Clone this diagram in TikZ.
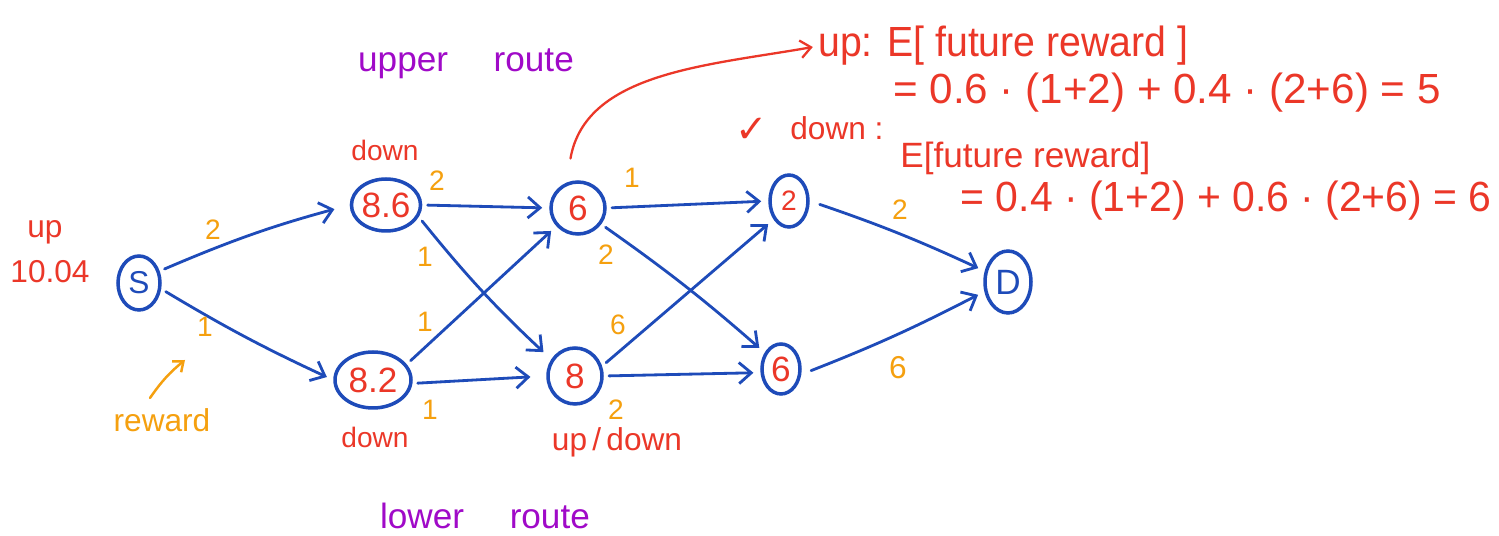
\documentclass[tikz,border=0pt]{standalone}
\usepackage{fontspec}
\setmainfont{Liberation Sans}
\newfontfamily\symfont{DejaVu Sans}
\usetikzlibrary{shapes.geometric,arrows.meta}
\definecolor{penblue}{RGB}{30,75,185}
\definecolor{penred}{RGB}{235,55,40}
\definecolor{penorange}{RGB}{245,160,15}
\definecolor{penpurple}{RGB}{160,10,200}
\newcommand\pxl{0.569pt}
\newcommand\fs[1]{\fontsize{#1}{#1}\selectfont}

\begin{document}
\begin{tikzpicture}[x=0.02cm,y=-0.02cm,
  state/.style={draw=penblue, line width=2pt, ellipse, inner sep=0pt, text=penred, font=\fs{20}},
  flow/.style={draw=penblue, line width=1.6pt, line cap=round,
    -{Straight Barb[length=7pt,width=12pt,line width=1.6pt]}, shorten <=3pt, shorten >=4pt},
  reward/.style={text=penorange, inner sep=0pt, font=\fs{16}},
  note/.style={text=penred, inner sep=0pt, font=\fs{16}},
  route/.style={text=penpurple, inner sep=0pt, font=\fs{20}},
  calc/.style={text=penred, inner sep=0pt, font=\fs{24}, anchor=base west},
]
\useasboundingbox[fill=white] (0,0) rectangle (1499,536);

% states
\node[state, text=penblue, font=\fs{18}, minimum width=42*\pxl, minimum height=54*\pxl] (s) at (139,283) {S};
\node[state, minimum width=66*\pxl, minimum height=52*\pxl] (n86) at (386,205) {8.6};
\node[state, minimum width=76*\pxl, minimum height=56*\pxl] (n82) at (373,380) {8.2};
\node[state, minimum width=54*\pxl, minimum height=52*\pxl] (n6u) at (578,208) {6};
\node[state, minimum width=54*\pxl, minimum height=56*\pxl] (n8) at (575,376) {8};
\node[state, font=\fs{16}, minimum width=38*\pxl, minimum height=52*\pxl] (n2) at (789,201) {2};
\node[state, minimum width=38*\pxl, minimum height=50*\pxl] (n6l) at (781,369) {6};
\node[state, text=penblue, minimum width=46*\pxl, minimum height=62*\pxl] (d) at (1008,282) {D};

% transitions
\draw[flow, shorten >=9pt] (s.30) to[bend left=4] (n86.west);
\draw[flow] (s.-15) to[bend right=3] (n82.west);
\draw[flow] (n86.east) -- (n6u.west);
\draw[flow, shorten >=6pt] (n86.-20) to[bend right=4] (n8.145);
\draw[flow] (n82.25) -- (n6u.220);
\draw[flow, shorten >=9pt] (n82.-5) -- (n8.west);
\draw[flow] (n6u.east) -- (n2.west);
\draw[flow] (n6u.-35) to[bend left=3] (n6l.135);
\draw[flow] (n8.20) -- (n2.230);
\draw[flow] (n8.east) -- (n6l.190);
\draw[flow, shorten <=6pt] (n2.east) to[bend left=3] (d.155);
\draw[flow, shorten <=6pt] (n6l.-15) to[bend right=3] (d.202);

% rewards on the transitions
\node[reward] (r1) at (213,230) {2};
\node[reward] (r2) at (205,327) {1};
\node[reward] (r3) at (437,181) {2};
\node[reward] (r4) at (425,257) {1};
\node[reward] (r5) at (425,322) {1};
\node[reward] (r6) at (430,410) {1};
\node[reward] (r7) at (632,178) {1};
\node[reward] (r8) at (606,255) {2};
\node[reward] (r9) at (618,325) {6};
\node[reward] (r10) at (616,410) {2};
\node[reward] (r11) at (900,210) {2};
\node[reward, font=\fs{18}] (r12) at (898,368) {6};

% reward pointer
\node[reward, font=\fs{18}] (rw) at (162,420) {reward};
\coordinate (rwtail) at (150,398);
\coordinate (rwhead) at (185,360);
\draw[penorange, line width=1.4pt, line cap=round, -{Straight Barb[length=5pt,width=8pt,line width=1.4pt]}]
  (rwtail) to[bend left=8] (rwhead);

% values and decisions
\node[note, font=\fs{18}] (upS) at (45,232) {up};
\node[note, font=\fs{18}] (vS) at (50,272) {10.04};
\node[note] (dn86) at (385,150) {down};
\node[note] (dn82) at (375,437) {down};
\node[note, font=\fs{18}] (ud8) at (617,442) {up\,/\,down};

% routes
\node[route] (upper) at (466,64) {upper\hspace{26pt}route};
\node[route] (lower) at (485,516) {lower\hspace{26pt}route};

% expected future reward
\node[calc] (upeq) at (818,57) {\scalebox{0.93}[1]{up: E[ future reward ]}};
\node[calc] (upval) at (893,104) {= 0.6 · (1+2) + 0.4 · (2+6) = 5};
\node[text=penred, inner sep=0pt, font=\symfont\fs{22}] (tick) at (752,130) {✓};
\node[calc, font=\fs{18}] (dnlbl) at (790,140) {down :};
\node[calc, font=\fs{20}] (dneq) at (900,168) {E[future reward]};
\node[calc, anchor=base east] (dnval) at (1492,212) {\scalebox{0.97}[1]{= 0.4 · (1+2) + 0.6 · (2+6) = 6}};

\draw[penred, line width=1.3pt, line cap=round, shorten <=14pt, shorten >=3pt,
  -{Straight Barb[length=6pt,width=10pt,line width=1.3pt]}]
  (n6u.115) to[out=80,in=190] (upeq.west);
\end{tikzpicture}
\end{document}
